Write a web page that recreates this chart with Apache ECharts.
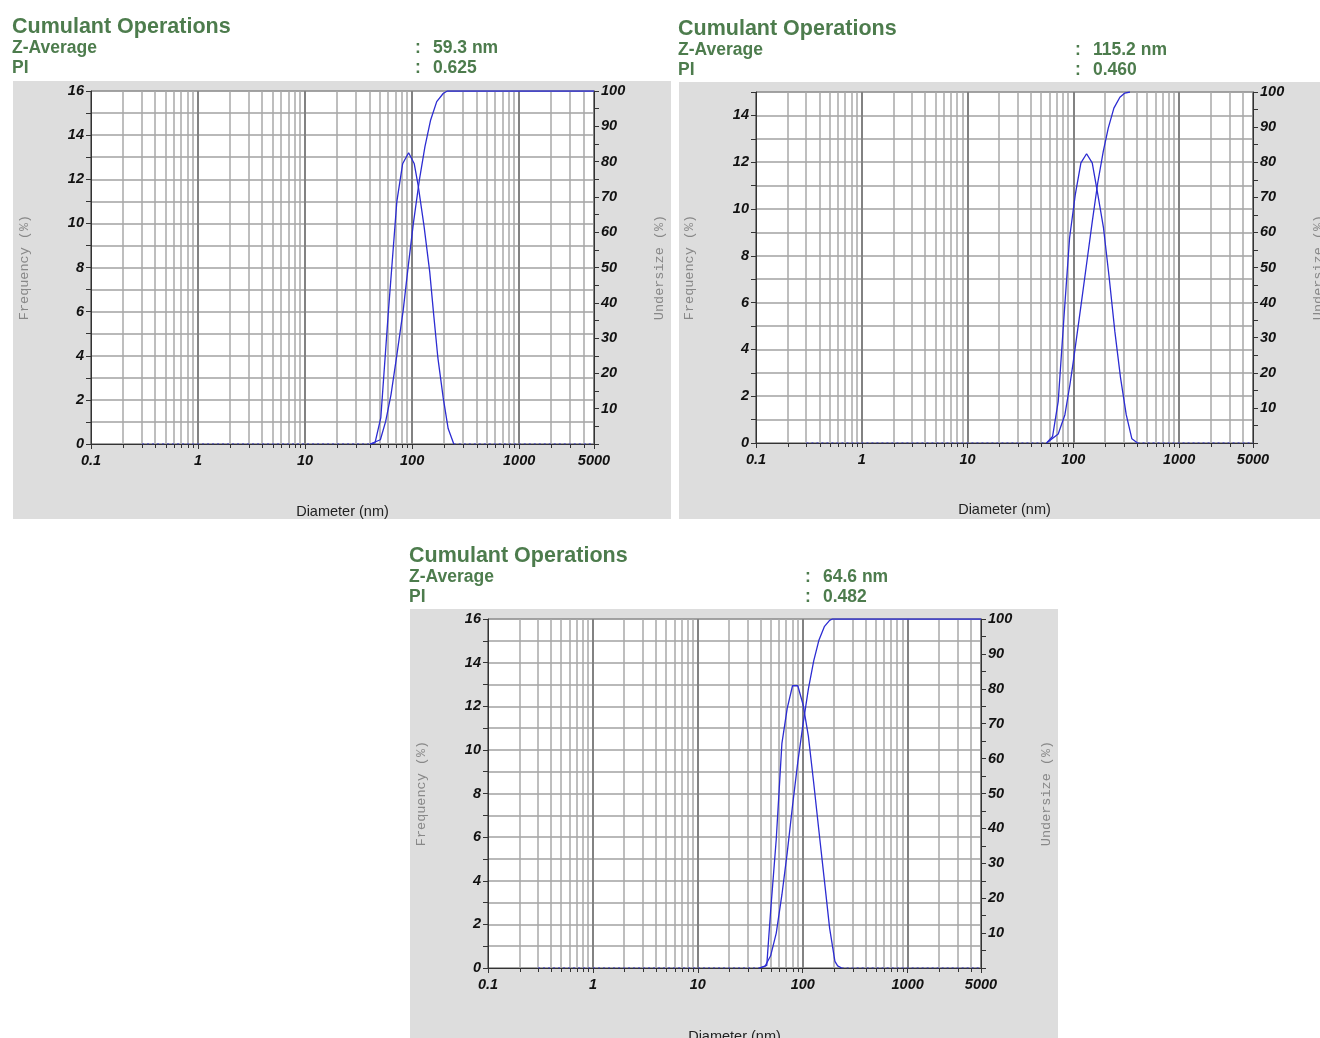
<!DOCTYPE html>
<html><head><meta charset="utf-8">
<script src="https://cdn.jsdelivr.net/npm/echarts@6/dist/echarts.min.js"></script>
<style>html,body{margin:0;padding:0;background:#fff}#c{width:1320px;height:1038px}</style>
</head><body><div id="c"></div>
<script>
// ---------- DATA ----------
const heading = 'Cumulant Operations';
const zAverage = ['59.3 nm', '115.2 nm', '64.6 nm'];
const polyIndex = ['0.625', '0.460', '0.482'];
const xTickLabels = ['0.1', '1', '10', '100', '1000', '5000'];
const freqMax = [16, 15, 16];
const baselineStart = [0.3, 0.3, 0.3];

// sample 1
const freq1D = [40.6, 45, 51, 60, 72, 81.5, 92.7, 104.7, 114, 129, 146, 158, 174, 195, 217, 245];
const freq1V = [0, 0.05, 1.2, 6.0, 11.0, 12.7, 13.2, 12.7, 11.7, 9.9, 7.8, 6.0, 3.9, 2.1, 0.7, 0];
const cum1D = [40.6, 50.5, 56.6, 63.5, 71.7, 82.6, 91.9, 102.7, 116.9, 131.6, 148.9, 169.7, 195, 213, 5000];
const cum1V = [0, 1.2, 6.4, 14, 24.8, 38, 50.3, 62.5, 74.8, 84.2, 91.8, 97, 99.3, 100, 100];

// sample 2
const freq2D = [55.9, 63.7, 72.0, 81.5, 92.2, 104.3, 118, 133.5, 151, 170.8, 193, 218.6, 247, 279.7, 316.5, 358, 405];
const freq2V = [0, 0.28, 1.78, 5.34, 8.76, 10.6, 11.97, 12.36, 11.97, 10.6, 9.19, 7.05, 4.77, 2.78, 1.21, 0.18, 0];
const cum2D = [55.9, 58, 72, 83.3, 92.9, 100, 118, 133.5, 151, 170, 192, 214, 242, 275.7, 307, 343];
const cum2V = [0, 0.2, 2.56, 8.06, 16.6, 23.2, 39, 51, 63, 74, 83.1, 89.7, 95.4, 98.5, 99.7, 100];

// sample 3
const freq3D = [38.6, 45.4, 49.4, 55.9, 63.3, 71.1, 79.9, 89.7, 100.8, 113.2, 127.2, 142.8, 160.5, 180.3, 202.6, 215, 235];
const freq3V = [0, 0.12, 2.6, 5.9, 10.3, 11.9, 12.94, 12.94, 12.07, 10.62, 8.48, 6.26, 4.05, 1.83, 0.3, 0.1, 0];
const cum3D = [38.6, 43.7, 49.4, 55.9, 63.3, 71.1, 79.9, 89.7, 100.8, 113.2, 127.2, 142.8, 160.5, 180.3, 191, 5000];
const cum3V = [0, 0.5, 3.5, 10, 21, 33, 46.5, 59, 70, 80, 88, 94, 97.8, 99.6, 100, 100];

const freqD = [freq1D, freq2D, freq3D], freqV = [freq1V, freq2V, freq3V];
const cumD = [cum1D, cum2D, cum3D], cumV = [cum1V, cum2V, cum3V];

// ---------- LAYOUT / STYLE ----------
const layouts = [
  { panel: [13, 81, 658, 438], grid: { left: 91, top: 91, width: 503, height: 353 }, tx: 12, ty: 16, vx: 415, xGap: 60 },
  { panel: [679, 82, 641, 437], grid: { left: 756, top: 92, width: 497, height: 351 }, tx: 678, ty: 18, vx: 1075, xGap: 59 },
  { panel: [410, 609, 648, 429], grid: { left: 488, top: 619, width: 493, height: 349 }, tx: 409, ty: 545, vx: 805, xGap: 61 }
];
const GREEN = '#4d7c4d';
const BLUE = '#2c2cd2';
const SANS = '"Liberation Sans", Arial, sans-serif';
const MONO = '"Liberation Mono", "Courier New", monospace';
const tickFont = { fontFamily: SANS, fontStyle: 'italic', fontWeight: 'bold', fontSize: 14.5, color: '#111' };

const xMin = Math.pow(10, -1), xMax = Number(xTickLabels[xTickLabels.length - 1]);
const minorVals = [];
for (let e = -1; e <= 3; e++) for (let m = 2; m <= 9; m++) {
  const v = m * Math.pow(10, e);
  if (v < xMax) minorVals.push(v);
}

const chart = echarts.init(document.getElementById('c'), null, { renderer: 'canvas' });
const titles = [], graphics = [], grids = [], xAxes = [], yAxes = [], series = [];

layouts.forEach((L, i) => {
  graphics.push({ type: 'rect', z: -100, silent: true,
    shape: { x: L.panel[0], y: L.panel[1], width: L.panel[2], height: L.panel[3] },
    style: { fill: '#dddddd' } });
  titles.push({ text: heading, left: L.tx, top: L.ty, padding: 0,
    textStyle: { fontFamily: SANS, fontWeight: 'bold', fontSize: 21.5, color: GREEN } });
  const info = [['Z-Average', zAverage[i], 23], ['PI', polyIndex[i], 43]];
  info.forEach(([lab, val, dy]) => {
    const st = { fontFamily: SANS, fontWeight: 'bold', fontSize: 17.5, color: GREEN };
    titles.push({ text: lab, left: L.tx, top: L.ty + dy, padding: 0, textStyle: st });
    titles.push({ text: ':', left: L.vx, top: L.ty + dy, padding: 0, textStyle: st });
    titles.push({ text: val, left: L.vx + 18, top: L.ty + dy, padding: 0, textStyle: st });
  });

  grids.push(Object.assign({ show: true, backgroundColor: '#ffffff', borderColor: '#555', borderWidth: 1,
    containLabel: false, outerBoundsMode: 'none' }, L.grid));

  xAxes.push({
    type: 'log', logBase: 10, gridIndex: i, min: xMin, max: xMax,
    axisLine: { show: true, onZero: false, lineStyle: { color: '#333', width: 1 } },
    axisTick: { show: true, length: 5, lineStyle: { color: '#333' } },
    axisLabel: Object.assign({ margin: 9, showMinLabel: true, showMaxLabel: true,
      formatter: v => xTickLabels.find(l => Math.abs(Math.log10(+l) - Math.log10(v)) < 1e-4) || '' }, tickFont),
    splitLine: { show: true, lineStyle: { color: '#828282', width: 2 } },
    name: 'Diameter (nm)', nameLocation: 'middle', nameGap: L.xGap,
    nameTextStyle: { fontFamily: SANS, fontSize: 14.5, color: '#222' }
  });
  yAxes.push({
    type: 'value', gridIndex: i, position: 'left', min: 0, max: freqMax[i], interval: 1,
    axisLine: { show: true, lineStyle: { color: '#333' } },
    axisTick: { show: true, length: 5, lineStyle: { color: '#333' } },
    axisLabel: Object.assign({ margin: 7, formatter: v => (v % 2 === 0 ? String(v) : '') }, tickFont),
    splitLine: { show: true, lineStyle: { color: '#a2a2a2', width: 1.5 } },
    name: 'Frequency (%)', nameLocation: 'middle', nameGap: 60, nameRotate: 90,
    nameTextStyle: { fontFamily: MONO, fontSize: 13.5, color: '#888' }
  });
  yAxes.push({
    type: 'value', gridIndex: i, position: 'right', min: 0, max: 100, interval: 5,
    axisLine: { show: true, lineStyle: { color: '#333' } },
    axisTick: { show: true, length: 5, lineStyle: { color: '#333' } },
    axisLabel: Object.assign({ margin: 7, formatter: v => (v % 10 === 0 && v > 0 ? String(v) : '') }, tickFont),
    splitLine: { show: false },
    name: 'Undersize (%)', nameLocation: 'middle', nameGap: 58, nameRotate: 90,
    nameTextStyle: { fontFamily: MONO, fontSize: 13.5, color: '#888' }
  });

  // minor log grid lines + minor ticks, placed through the axis scale
  series.push({
    type: 'custom', xAxisIndex: i, yAxisIndex: 2 * i, silent: true, z: 1, clip: false,
    data: minorVals.map(v => [v, 0]),
    renderItem: (params, api) => {
      const p = api.coord([api.value(0), 0]);
      const cs = params.coordSys;
      const x = Math.round(p[0]);
      return { type: 'group', children: [
        { type: 'line', shape: { x1: x, y1: cs.y, x2: x, y2: cs.y + cs.height }, style: { stroke: '#a8a8a8', lineWidth: 1.5 } },
        { type: 'line', shape: { x1: x + 0.5, y1: cs.y + cs.height, x2: x + 0.5, y2: cs.y + cs.height + 4 }, style: { stroke: '#333', lineWidth: 1 } }
      ] };
    }
  });

  const fd = freqD[i], fv = freqV[i];
  const dotted = { color: BLUE, width: 1, type: [2, 3] };
  series.push({ type: 'line', xAxisIndex: i, yAxisIndex: 2 * i, z: 3, symbol: 'none', silent: true,
    lineStyle: dotted, data: [[baselineStart[i], 0], [fd[0], 0]] });
  series.push({ type: 'line', xAxisIndex: i, yAxisIndex: 2 * i, z: 3, symbol: 'none', silent: true,
    lineStyle: dotted, data: [[fd[fd.length - 1], 0], [xMax, 0]] });
  series.push({ type: 'line', xAxisIndex: i, yAxisIndex: 2 * i, z: 4, symbol: 'none', silent: true,
    lineStyle: { color: BLUE, width: 1.3 }, data: fd.map((d, k) => [d, fv[k]]) });
  series.push({ type: 'line', xAxisIndex: i, yAxisIndex: 2 * i + 1, z: 4, symbol: 'none', silent: true,
    lineStyle: { color: BLUE, width: 1.3 }, data: cumD[i].map((d, k) => [d, cumV[i][k]]) });
});

chart.setOption({
  animation: false,
  backgroundColor: '#ffffff',
  title: titles,
  graphic: { elements: graphics },
  grid: grids,
  xAxis: xAxes,
  yAxis: yAxes,
  series: series
});
</script>
</body></html>
